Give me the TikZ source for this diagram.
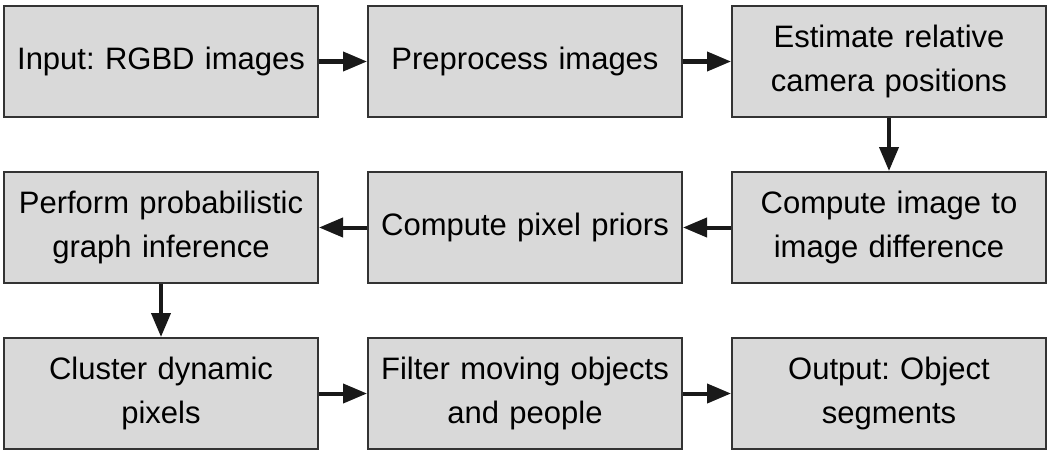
\documentclass[tikz,border=0pt]{standalone}
\usepackage{fontspec}
\setmainfont{Liberation Sans}
\usetikzlibrary{positioning,arrows.meta}
\definecolor{boxgray}{RGB}{217,217,217}
\definecolor{edgegray}{RGB}{51,51,51}
\frenchspacing

\begin{document}
\begin{tikzpicture}[x=1pt, y=1pt, font=\fontsize{31}{44}\selectfont,
		stage/.style={draw=edgegray, line width=2pt, fill=boxgray,
			minimum width=314pt, minimum height=111pt, inner sep=0pt,
			align=center, text width=306pt},
		flow/.style={line width=4pt, draw=black!90,
			-{Triangle[length=24pt, width=19pt]}},
		node distance=53pt and 48pt]
		\useasboundingbox (0,0) rectangle (1059,-460);
		% row 1: left to right
		\node[stage] (input) at (161,-61.5) {Input: RGBD images};
		\node[stage, right=of input] (prep) {Preprocess images};
		\node[stage, right=of prep] (campos) {Estimate relative\\camera positions};
		% row 2: right to left
		\node[stage, below=of campos] (imdiff) {Compute image to\\image difference};
		\node[stage, left=of imdiff] (priors) {Compute pixel priors};
		\node[stage, left=of priors] (infer) {Perform probabilistic\\graph inference};
		% row 3: left to right
		\node[stage, below=of infer] (cluster) {Cluster dynamic\\pixels};
		\node[stage, right=of cluster] (filter) {Filter moving objects\\and people};
		\node[stage, right=of filter] (output) {Output: Object\\segments};
		% arrows
		\draw[flow] (input) -- (prep);
		\draw[flow] (prep) -- (campos);
		\draw[flow] (campos) -- (imdiff);
		\draw[flow] (imdiff) -- (priors);
		\draw[flow] (priors) -- (infer);
		\draw[flow] (infer) -- (cluster);
		\draw[flow] (cluster) -- (filter);
		\draw[flow] (filter) -- (output);
	\end{tikzpicture}
\end{document}
